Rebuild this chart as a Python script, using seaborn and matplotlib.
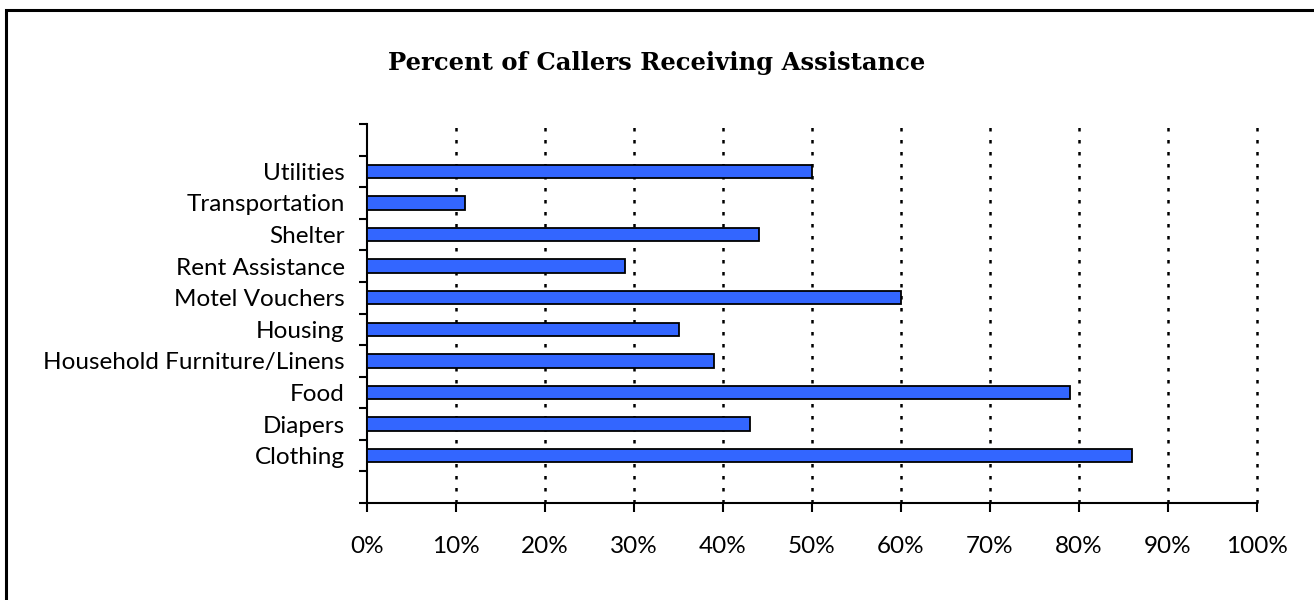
import matplotlib
matplotlib.use("Agg")
import matplotlib.pyplot as plt
from matplotlib.ticker import FixedLocator, PercentFormatter, MultipleLocator
from matplotlib.patches import Rectangle
import seaborn as sns
import pandas as pd

# Assistance categories, listed top to bottom
categories = [
    "Utilities",
    "Transportation",
    "Shelter",
    "Rent Assistance",
    "Motel Vouchers",
    "Housing",
    "Household Furniture/Linens",
    "Food",
    "Diapers",
    "Clothing",
]
# Percent of callers receiving each kind of assistance
percent_received = [50, 11, 44, 29, 60, 35, 39, 79, 43, 86]

title_text = "Percent of Callers Receiving Assistance"

df = pd.DataFrame({"category": categories, "percent": percent_received})

sns.set_style("white")
plt.rcParams["font.family"] = ["Lato", "DejaVu Sans"]
plt.rcParams["text.color"] = "black"
plt.rcParams["xtick.color"] = "black"
plt.rcParams["ytick.color"] = "black"
plt.rcParams["xtick.labelcolor"] = "black"
plt.rcParams["ytick.labelcolor"] = "black"

fig = plt.figure(figsize=(13.14, 6.0), dpi=100)
ax = fig.add_axes([367 / 1314, 1 - 503 / 600, 890 / 1314, 379 / 600])

sns.barplot(
    data=df, x="percent", y="category", order=categories, orient="h",
    color="#3366FF", saturation=1, edgecolor="black", linewidth=1.3,
    width=0.43, ax=ax, zorder=3,
)

ax.set_xlim(0, 100)
ax.set_ylim(len(categories) + 0.5, -1.5)
ax.xaxis.set_major_locator(MultipleLocator(10))
ax.xaxis.set_major_formatter(PercentFormatter(xmax=100, decimals=0))
ax.grid(False)

# Dotted vertical gridlines at every major x tick except the axis itself
grid_x = [t for t in ax.get_xticks() if 0 < t <= 100]
ymin, ymax = ax.get_ylim()
ax.vlines(grid_x, ymin, ymax, colors="black", linewidth=1.8,
          linestyles=[(0, (1.4, 3.4))], zorder=1, clip_on=False)
ax.set_ylim(ymin, ymax)

# Category separators as outward minor ticks on the y axis
ax.yaxis.set_minor_locator(FixedLocator([i - 0.5 for i in range(-1, len(categories) + 2)]))
ax.tick_params(axis="y", which="major", length=0, pad=16, labelsize=17.5)
ax.tick_params(axis="y", which="minor", length=6, width=1.5, direction="out", color="black", left=True)
ax.tick_params(axis="x", which="major", length=6.5, width=1.5, direction="out", color="black",
               bottom=True, pad=17, labelsize=17.5)

ax.set_xlabel("")
ax.set_ylabel("")
for side in ("top", "right"):
    ax.spines[side].set_visible(False)
for side in ("left", "bottom"):
    ax.spines[side].set_color("black")
    ax.spines[side].set_linewidth(1.5)

fig.text(657 / 1314, 1 - 63 / 600, title_text, ha="center", va="center", color="black",
         fontsize=17.5, fontweight="bold", family=["DejaVu Serif"])

# Chart-area border
fig.patches.append(Rectangle((6 / 1314, -0.05), 1.2, 1 - 10 / 600 + 0.05,
                             transform=fig.transFigure, fill=False,
                             edgecolor="black", linewidth=2.2, zorder=10))

fig.savefig("out.png", dpi=100)
